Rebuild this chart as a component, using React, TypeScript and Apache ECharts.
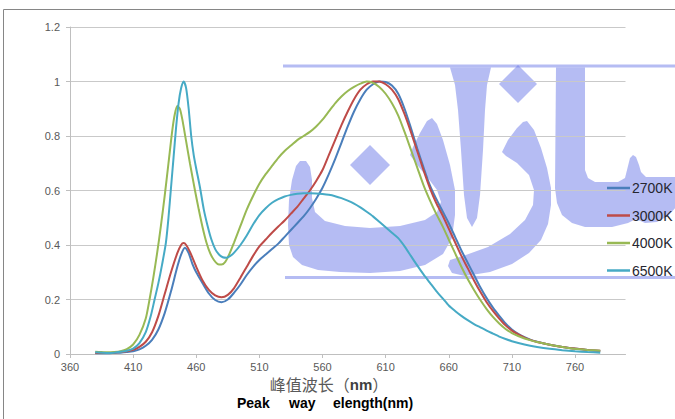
import React, { useEffect, useRef } from "react";
import * as echarts from "echarts";

// ---- data ----
const seriesNames = ["2700K", "3000K", "4000K", "6500K"];
const seriesColors = ["#4a7ebb", "#be4b48", "#98b954", "#46aac5"];

const wl2700 = [380, 385, 390, 395, 400, 405, 410, 415, 420, 425, 430, 435, 440, 445, 448, 451, 454, 457, 460, 465, 470, 475, 480, 485, 490, 495, 500, 505, 510, 515, 520, 525, 530, 535, 540, 545, 550, 555, 560, 565, 570, 575, 580, 585, 590, 595, 600, 605, 610, 615, 620, 625, 630, 635, 640, 645, 650, 655, 660, 665, 670, 675, 680, 685, 690, 695, 700, 705, 710, 715, 720, 725, 730, 740, 750, 760, 770, 780];
const val2700 = [0.003, 0.003, 0.003, 0.004, 0.005, 0.007, 0.01, 0.017, 0.03, 0.052, 0.09, 0.15, 0.23, 0.32, 0.365, 0.39, 0.37, 0.33, 0.3, 0.26, 0.222, 0.198, 0.19, 0.2, 0.225, 0.255, 0.29, 0.32, 0.345, 0.365, 0.385, 0.405, 0.43, 0.455, 0.48, 0.505, 0.535, 0.57, 0.61, 0.66, 0.715, 0.775, 0.835, 0.89, 0.935, 0.97, 0.99, 1.0, 0.998, 0.985, 0.955, 0.9, 0.83, 0.755, 0.685, 0.62, 0.57, 0.525, 0.48, 0.43, 0.38, 0.335, 0.29, 0.245, 0.205, 0.17, 0.14, 0.112, 0.09, 0.074, 0.062, 0.052, 0.045, 0.034, 0.026, 0.02, 0.015, 0.011];

const wl3000 = [380, 385, 390, 395, 400, 405, 410, 415, 420, 425, 430, 435, 440, 445, 448, 450, 452, 455, 460, 465, 470, 475, 480, 485, 490, 495, 500, 505, 510, 515, 520, 525, 530, 535, 540, 545, 550, 555, 560, 565, 570, 575, 580, 585, 590, 595, 600, 605, 610, 615, 620, 625, 630, 635, 640, 645, 650, 655, 660, 665, 670, 675, 680, 685, 690, 695, 700, 705, 710, 715, 720, 725, 730, 740, 750, 760, 770, 780];
const val3000 = [0.004, 0.004, 0.004, 0.005, 0.007, 0.01, 0.015, 0.026, 0.045, 0.08, 0.14, 0.22, 0.3, 0.37, 0.4, 0.407, 0.4, 0.375, 0.32, 0.27, 0.235, 0.215, 0.208, 0.217, 0.242, 0.28, 0.32, 0.36, 0.395, 0.42, 0.445, 0.468, 0.49, 0.515, 0.54, 0.57, 0.6, 0.635, 0.675, 0.73, 0.785, 0.84, 0.89, 0.935, 0.97, 0.99, 1.0, 1.0, 0.99, 0.97, 0.935, 0.88, 0.815, 0.745, 0.675, 0.61, 0.555, 0.51, 0.46, 0.41, 0.36, 0.315, 0.27, 0.228, 0.19, 0.158, 0.13, 0.105, 0.086, 0.072, 0.06, 0.051, 0.044, 0.034, 0.026, 0.02, 0.015, 0.012];

const wl4000 = [380, 385, 390, 395, 400, 405, 410, 415, 420, 423, 426, 429, 432, 435, 438, 441, 443, 445, 447, 449, 452, 455, 459, 462, 465, 468, 471, 474, 477, 480, 483, 486, 490, 495, 500, 505, 510, 515, 520, 525, 530, 535, 540, 545, 550, 555, 560, 565, 570, 575, 580, 585, 590, 595, 600, 605, 610, 615, 620, 625, 630, 635, 640, 645, 650, 655, 660, 665, 670, 675, 680, 685, 690, 695, 700, 705, 710, 715, 720, 725, 730, 740, 750, 760, 770, 780];
const val4000 = [0.008, 0.007, 0.006, 0.007, 0.01, 0.018, 0.035, 0.07, 0.13, 0.2, 0.28, 0.37, 0.47, 0.58, 0.7, 0.82, 0.88, 0.91, 0.9, 0.86, 0.78, 0.7, 0.6, 0.53, 0.465, 0.41, 0.37, 0.345, 0.33, 0.328, 0.338, 0.365, 0.41, 0.47, 0.53, 0.58, 0.625, 0.66, 0.69, 0.72, 0.745, 0.765, 0.785, 0.8, 0.815, 0.835, 0.86, 0.89, 0.92, 0.945, 0.965, 0.98, 0.992, 1.0, 0.995, 0.98, 0.955, 0.92, 0.875, 0.815, 0.75, 0.685, 0.62, 0.565, 0.515, 0.47, 0.42, 0.37, 0.32, 0.275, 0.235, 0.198, 0.165, 0.136, 0.112, 0.092, 0.077, 0.066, 0.057, 0.05, 0.044, 0.034, 0.026, 0.019, 0.015, 0.012];

const wl6500 = [380, 385, 390, 395, 400, 405, 410, 415, 420, 424, 427, 430, 433, 436, 438, 440, 442, 444, 446, 448, 450, 452, 454, 456, 458, 460, 463, 466, 469, 472, 475, 478, 481, 484, 487, 490, 495, 500, 505, 510, 515, 520, 525, 530, 535, 540, 545, 550, 555, 560, 565, 570, 575, 580, 585, 590, 595, 600, 605, 610, 615, 620, 625, 630, 635, 640, 645, 650, 655, 660, 665, 670, 675, 680, 685, 690, 695, 700, 705, 710, 720, 730, 740, 750, 760, 770, 780];
const val6500 = [0.006, 0.005, 0.004, 0.005, 0.008, 0.012, 0.02, 0.04, 0.08, 0.14, 0.2, 0.26, 0.33, 0.41, 0.5, 0.61, 0.72, 0.83, 0.92, 0.975, 1.0, 0.975, 0.9, 0.8, 0.73, 0.68, 0.61, 0.53, 0.47, 0.42, 0.385, 0.365, 0.355, 0.353, 0.36, 0.372, 0.4, 0.435, 0.475, 0.51, 0.535, 0.555, 0.568, 0.578, 0.584, 0.588, 0.59, 0.59, 0.589, 0.587, 0.584, 0.579, 0.572, 0.563, 0.552, 0.538, 0.522, 0.505, 0.485, 0.465, 0.445, 0.425, 0.395, 0.36, 0.325, 0.292, 0.262, 0.232, 0.205, 0.178, 0.158, 0.14, 0.124, 0.11, 0.098, 0.086, 0.075, 0.064, 0.055, 0.047, 0.035, 0.026, 0.019, 0.014, 0.01, 0.007, 0.005];

const xTicks = [360, 410, 460, 510, 560, 610, 660, 710, 760];

const wlList = [wl2700, wl3000, wl4000, wl6500];
const valList = [val2700, val3000, val4000, val6500];

const WM = "rgba(98, 112, 230, 0.47)";

function poly(points: number[][]) {
  return { type: "polygon", z: -1, shape: { points }, style: { fill: WM } };
}
function diamond(cx: number, cy: number, r: number) {
  return poly([[cx, cy - r], [cx + r, cy], [cx, cy + r], [cx - r, cy]]);
}

export default function App() {
  const ref = useRef<HTMLDivElement>(null);
  useEffect(() => {
    if (!ref.current) return;
    const chart = echarts.init(ref.current, undefined, { renderer: "svg" });
    const series = seriesNames.map((name, i) => ({
      name,
      type: "line",
      data: wlList[i].map((x, j) => [x, valList[i][j]]),
      showSymbol: false,
      smooth: 0.25,
      lineStyle: { width: 2, color: seriesColors[i] },
      itemStyle: { color: seriesColors[i] },
      z: 3,
    }));

    const watermark = [
      { type: "rect", z: -1, shape: { x: 283, y: 64.5, width: 400, height: 3 }, style: { fill: WM } },
      { type: "rect", z: -1, shape: { x: 285, y: 276, width: 400, height: 3 }, style: { fill: WM } },
      // bowl
      poly([[300, 161], [296, 166], [292, 180], [289, 200], [288, 225], [289, 245], [293, 257], [302, 265], [318, 270], [340, 272], [370, 273], [400, 271], [425, 265], [443, 254], [452, 238], [455, 215], [455, 190], [450, 165], [443, 140], [437, 124], [432, 118], [427, 121], [420, 133], [413, 147], [410, 155], [418, 166], [428, 178], [437, 190], [441, 202], [437, 212], [425, 220], [400, 226], [370, 228], [345, 226], [325, 221], [315, 212], [312, 198], [312, 180], [310, 167], [306, 161]]),
      diamond(370, 165, 20),
      // alef
      poly([[450, 67.5], [491, 67.5], [487, 85], [485, 110], [483, 150], [480, 195], [477, 218], [472, 227], [467, 218], [464, 195], [461, 150], [458, 110], [455, 85]]),
      diamond(518, 84, 19),
      // reh
      poly([[527, 121], [534, 130], [541, 148], [547, 168], [551, 188], [551, 205], [548, 224], [541, 240], [529, 253], [512, 264], [490, 272], [465, 276], [452, 273], [448, 266], [450, 260], [463, 256], [488, 247], [510, 234], [525, 220], [533, 205], [534, 190], [529, 175], [517, 163], [506, 156], [502, 152], [508, 140], [517, 128], [523, 122]]),
      // seen
      poly([[556, 67.5], [585, 67.5], [585, 170], [588, 178], [595, 182], [618, 182], [625, 178], [628, 166], [630, 158], [633, 155], [636, 157], [639, 165], [641, 172], [646, 177], [676, 177], [676, 207], [668, 216], [657, 222], [645, 223], [636, 219], [628, 223], [612, 227], [585, 227], [572, 223], [562, 215], [557, 203], [555, 188]]),
    ];

    chart.setOption({
      animation: false,
      backgroundColor: "#ffffff",
      grid: { left: 70, top: 27, right: 49.5, bottom: 65, containLabel: false },
      xAxis: {
        type: "value",
        min: 360,
        max: 800,
        interval: 50,
        axisLine: { show: true, lineStyle: { color: "#bfbfbf", width: 1 } },
        axisTick: { show: true, length: 4, customValues: xTicks, lineStyle: { color: "#bfbfbf" } },
        axisLabel: {
          customValues: xTicks,
          color: "#595959",
          fontSize: 11,
          fontFamily: "Liberation Sans, Arial, sans-serif",
          margin: 7,
        },
        splitLine: { show: false },
      },
      yAxis: {
        type: "value",
        min: 0,
        max: 1.2,
        interval: 0.2,
        axisLine: { show: true, lineStyle: { color: "#bfbfbf", width: 1 } },
        axisTick: { show: true, length: 4, lineStyle: { color: "#bfbfbf" } },
        axisLabel: {
          color: "#595959",
          fontSize: 11,
          fontFamily: "Liberation Sans, Arial, sans-serif",
          margin: 10,
          formatter: (v: number) => String(Math.round(v * 10) / 10),
        },
        splitLine: { show: true, lineStyle: { color: "#c9c9c9", width: 1 } },
      },
      legend: {
        orient: "vertical",
        left: 607,
        top: 181,
        padding: 0,
        itemGap: 13.5,
        itemWidth: 23,
        itemHeight: 2.5,
        icon: "rect",
        data: seriesNames,
        textStyle: { color: "#262630", fontSize: 14, fontFamily: "Liberation Sans, Arial, sans-serif", padding: [0, 0, 0, -3] },
      },
      graphic: [
        ...watermark,
        {
          type: "rect",
          z: 100,
          shape: { x: 3.5, y: 9.5, width: 720, height: 460 },
          style: { fill: "none", stroke: "#868686", lineWidth: 1 },
        },
        {
          type: "text",
          z: 100,
          x: 329,
          y: 384,
          style: {
            text: "{a|峰值波长（}{b|nm}{a|）}",
            align: "center",
            verticalAlign: "middle",
            rich: {
              a: { fontSize: 16, fill: "#595959", fontFamily: "Noto Sans CJK SC, sans-serif" },
              b: { fontSize: 15, fill: "#404040", fontWeight: "bold", fontFamily: "Liberation Sans, Arial, sans-serif" },
            },
          },
        },
        {
          type: "text",
          z: 100,
          x: 237,
          y: 403,
          style: { text: "Peak", fontSize: 14, fontWeight: "bold", fill: "#000", fontFamily: "Liberation Sans, Arial, sans-serif", verticalAlign: "middle" },
        },
        {
          type: "text",
          z: 100,
          x: 289,
          y: 403,
          style: { text: "way", fontSize: 14, fontWeight: "bold", fill: "#000", fontFamily: "Liberation Sans, Arial, sans-serif", verticalAlign: "middle" },
        },
        {
          type: "text",
          z: 100,
          x: 333,
          y: 403,
          style: { text: "elength(nm)", fontSize: 14, fontWeight: "bold", fill: "#000", fontFamily: "Liberation Sans, Arial, sans-serif", verticalAlign: "middle" },
        },
      ],
      series,
    });
    return () => chart.dispose();
  }, []);
  return (
    <div
      ref={ref}
      style={{ position: "fixed", left: 0, top: 0, width: 675, height: 419, background: "#fff" }}
    />
  );
}
